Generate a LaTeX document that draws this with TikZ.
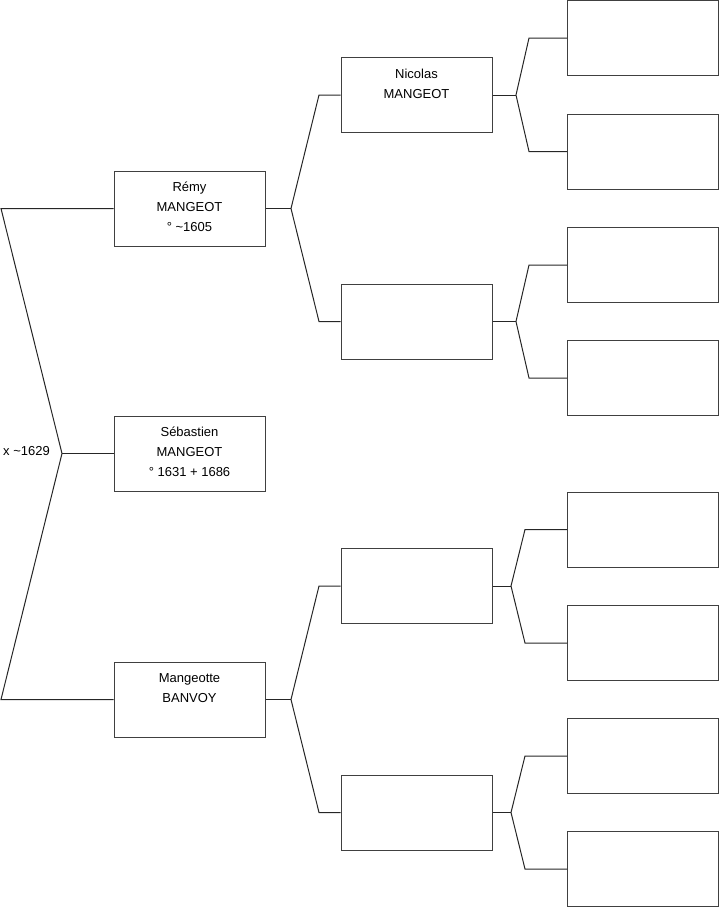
\documentclass[tikz,border=0pt]{standalone}
\usepackage{fontspec}
\setmainfont{Liberation Sans}
\begin{document}
\begin{tikzpicture}[x=1pt,y=-1pt,
  pbox/.style={draw=black!75, line width=1pt, minimum width=151pt, minimum height=75pt, inner sep=0pt},
  ptext/.style={anchor=north, inner sep=0pt, align=center, font=\fontsize{13}{20}\selectfont},
  conn/.style={draw=black!85, line width=1pt}]
\useasboundingbox (0,0) rectangle (719,908);
% generation 1
\node[pbox] (remy) at (189.5,208.5) {};
\node[pbox] (seb)  at (189.5,453.5) {};
\node[pbox] (mang) at (189.5,699.5) {};
% generation 2
\node[pbox] (nic) at (416.5,95) {};
\node[pbox] (b2)  at (416.5,321.5) {};
\node[pbox] (b3)  at (416.5,586) {};
\node[pbox] (b4)  at (416.5,812.5) {};
% generation 3
\node[pbox] (g1) at (643,38) {};
\node[pbox] (g2) at (643,151.5) {};
\node[pbox] (g3) at (643,265) {};
\node[pbox] (g4) at (643,378) {};
\node[pbox] (g5) at (643,529.5) {};
\node[pbox] (g6) at (643,643) {};
\node[pbox] (g7) at (643,756) {};
\node[pbox] (g8) at (643,869) {};
% texts
\node[ptext] (remyt) at ([yshift=-7pt]remy.north) {\strut Rémy\\MANGEOT\\° \textasciitilde1605};
\node[ptext] (sebt) at ([yshift=-7pt]seb.north) {\strut Sébastien\\MANGEOT\\° 1631 + 1686};
\node[ptext] (mangt) at ([yshift=-7pt]mang.north) {\strut Mangeotte\\BANVOY};
\node[ptext] (nict) at ([yshift=-7pt]nic.north) {\strut Nicolas\\MANGEOT};
\node[anchor=west, inner sep=0pt, font=\fontsize{13}{15}\selectfont] (marr) at (3,451.5) {x \textasciitilde1629};
% junction coordinates
\coordinate (la) at (1,208.5);
\coordinate (lb) at (1,699.5);
\coordinate (j0) at (62,453.5);
\coordinate (jr1) at (291,208.5);
\coordinate (jr1a) at (319,95);
\coordinate (jr1b) at (319,321.5);
\coordinate (jr2) at (291,699.5);
\coordinate (jr2a) at (319,586);
\coordinate (jr2b) at (319,812.5);
\coordinate (jn1) at (516,95);
\coordinate (jn1a) at (529,38);
\coordinate (jn1b) at (529,151.5);
\coordinate (jn2) at (516,321.5);
\coordinate (jn2a) at (529,265);
\coordinate (jn2b) at (529,378);
\coordinate (jn3) at (511,586);
\coordinate (jn3a) at (525,529.5);
\coordinate (jn3b) at (525,643);
\coordinate (jn4) at (511,812.5);
\coordinate (jn4a) at (525,756);
\coordinate (jn4b) at (525,869);
% connectors
\draw[conn] (remy.west) -- (la) -- (j0) -- (lb) -- (mang.west);
\draw[conn] (seb.west) -- (j0);
\draw[conn] (remy.east) -- (jr1);
\draw[conn] (nic.west) -- (jr1a) -- (jr1) -- (jr1b) -- (b2.west);
\draw[conn] (mang.east) -- (jr2);
\draw[conn] (b3.west) -- (jr2a) -- (jr2) -- (jr2b) -- (b4.west);
\draw[conn] (nic.east) -- (jn1);
\draw[conn] (g1.west) -- (jn1a) -- (jn1) -- (jn1b) -- (g2.west);
\draw[conn] (b2.east) -- (jn2);
\draw[conn] (g3.west) -- (jn2a) -- (jn2) -- (jn2b) -- (g4.west);
\draw[conn] (b3.east) -- (jn3);
\draw[conn] (g5.west) -- (jn3a) -- (jn3) -- (jn3b) -- (g6.west);
\draw[conn] (b4.east) -- (jn4);
\draw[conn] (g7.west) -- (jn4a) -- (jn4) -- (jn4b) -- (g8.west);
\end{tikzpicture}
\end{document}
